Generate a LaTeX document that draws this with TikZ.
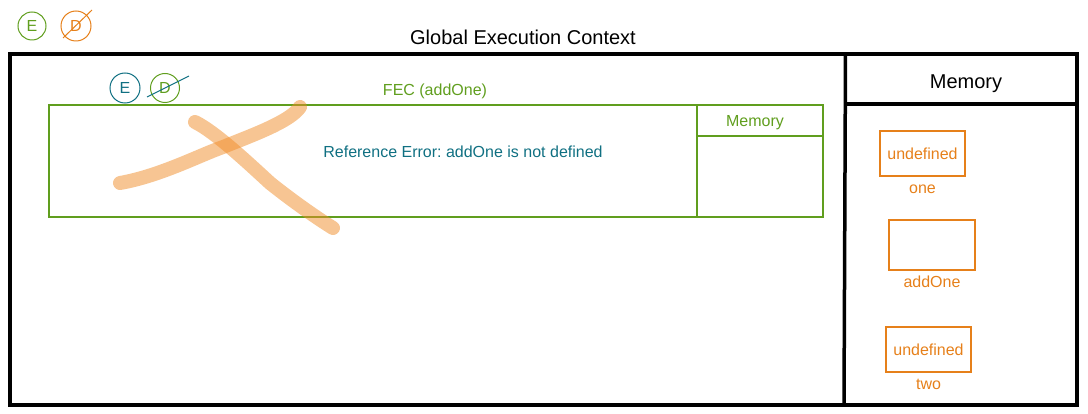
\documentclass[tikz,border=0pt]{standalone}
\usepackage{fontspec}
\setmainfont{Liberation Sans}
\usetikzlibrary{positioning,calc}
\definecolor{fecgreen}{RGB}{96,158,30}
\definecolor{memorange}{RGB}{230,128,26}
\definecolor{errteal}{RGB}{16,112,130}
\definecolor{scribble}{RGB}{240,140,40}
\frenchspacing
\begin{document}
\begin{tikzpicture}[x=1pt,y=-1pt,
  big/.style={font=\fontsize{20}{24}\selectfont},
  small/.style={font=\fontsize{16}{19}\selectfont},
  circ/.style={circle,draw,small,minimum size=29pt,inner sep=0pt,line width=1pt},
  membox/.style={draw=memorange,line width=1.3pt,small,text=memorange,
    minimum width=85pt,minimum height=45pt,inner sep=0pt},
  memlabel/.style={small,text=memorange,inner sep=0pt,text height=12pt,text depth=3pt},
  scrawl/.style={scribble,opacity=0.5,line width=14pt,line cap=round,line join=round}]
  \useasboundingbox (0,0) rectangle (1088,414);
  % execution / deletion markers
  \node[circ,draw=fecgreen,text=fecgreen,minimum size=28pt] (E1) at (32,26) {E};
  \node[circ,draw=memorange,text=memorange,minimum size=30pt] (D1) at (76,26) {D};
  \draw[memorange,line width=1pt] ($(D1)+(-13,12)$) -- ($(D1)+(16,-16)$);
  % global execution context
  \node[big,anchor=base] (gectitle) at (523,45) {Global Execution Context};
  \draw[line width=3.5pt] (10,54) rectangle (1077,405);
  \draw[line width=3.5pt] (845.5,54) -- (844,405);
  \draw[line width=3.5pt] (845,104) -- (1077,104);
  \node[big,anchor=base] (gecmem) at (966,89) {Memory};
  % function execution context
  \node[circ,draw=errteal,text=errteal,minimum size=30pt] (E2) at (125,88) {E};
  \node[circ,draw=fecgreen,text=fecgreen] (D2) at (165,88) {D};
  \draw[errteal,line width=1pt] ($(D2)+(-18,9)$) -- ($(D2)+(24,-12)$);
  \node[small,text=fecgreen,anchor=base] (fectitle) at (435,96) {FEC (addOne)};
  \draw[fecgreen,line width=1.3pt] (49,105) rectangle (823,217);
  \draw[fecgreen,line width=1.3pt] (697,105) -- (697,217);
  \draw[fecgreen,line width=1.3pt] (697,136) -- (823,136);
  \node[small,text=fecgreen,anchor=base] (fecmem) at (755,127) {Memory};
  \node[small,text=errteal,anchor=base] (err) at (463,157.5) {Reference Error: addOne is not defined};
  % crossed out
  \draw[scrawl] (120,183) .. controls (160,176) and (200,155) .. (223,147)
    .. controls (250,136) and (290,122) .. (300,107);
  \draw[scrawl] (195,122) .. controls (215,132) and (245,160) .. (270,183)
    .. controls (295,203) and (320,220) .. (333,228);
  % global memory
  \node[membox] (one) at (922.5,153.5) {undefined};
  \node[memlabel,below=4.5pt of one] (onelbl) {one};
  \node[membox,minimum width=86pt,minimum height=50pt] (addone) at (932,245) {};
  \node[memlabel,below=4.5pt of addone] (addonelbl) {addOne};
  \node[membox] (two) at (928.5,349.5) {undefined};
  \node[memlabel,below=4.5pt of two] (twolbl) {two};
\end{tikzpicture}
\end{document}
